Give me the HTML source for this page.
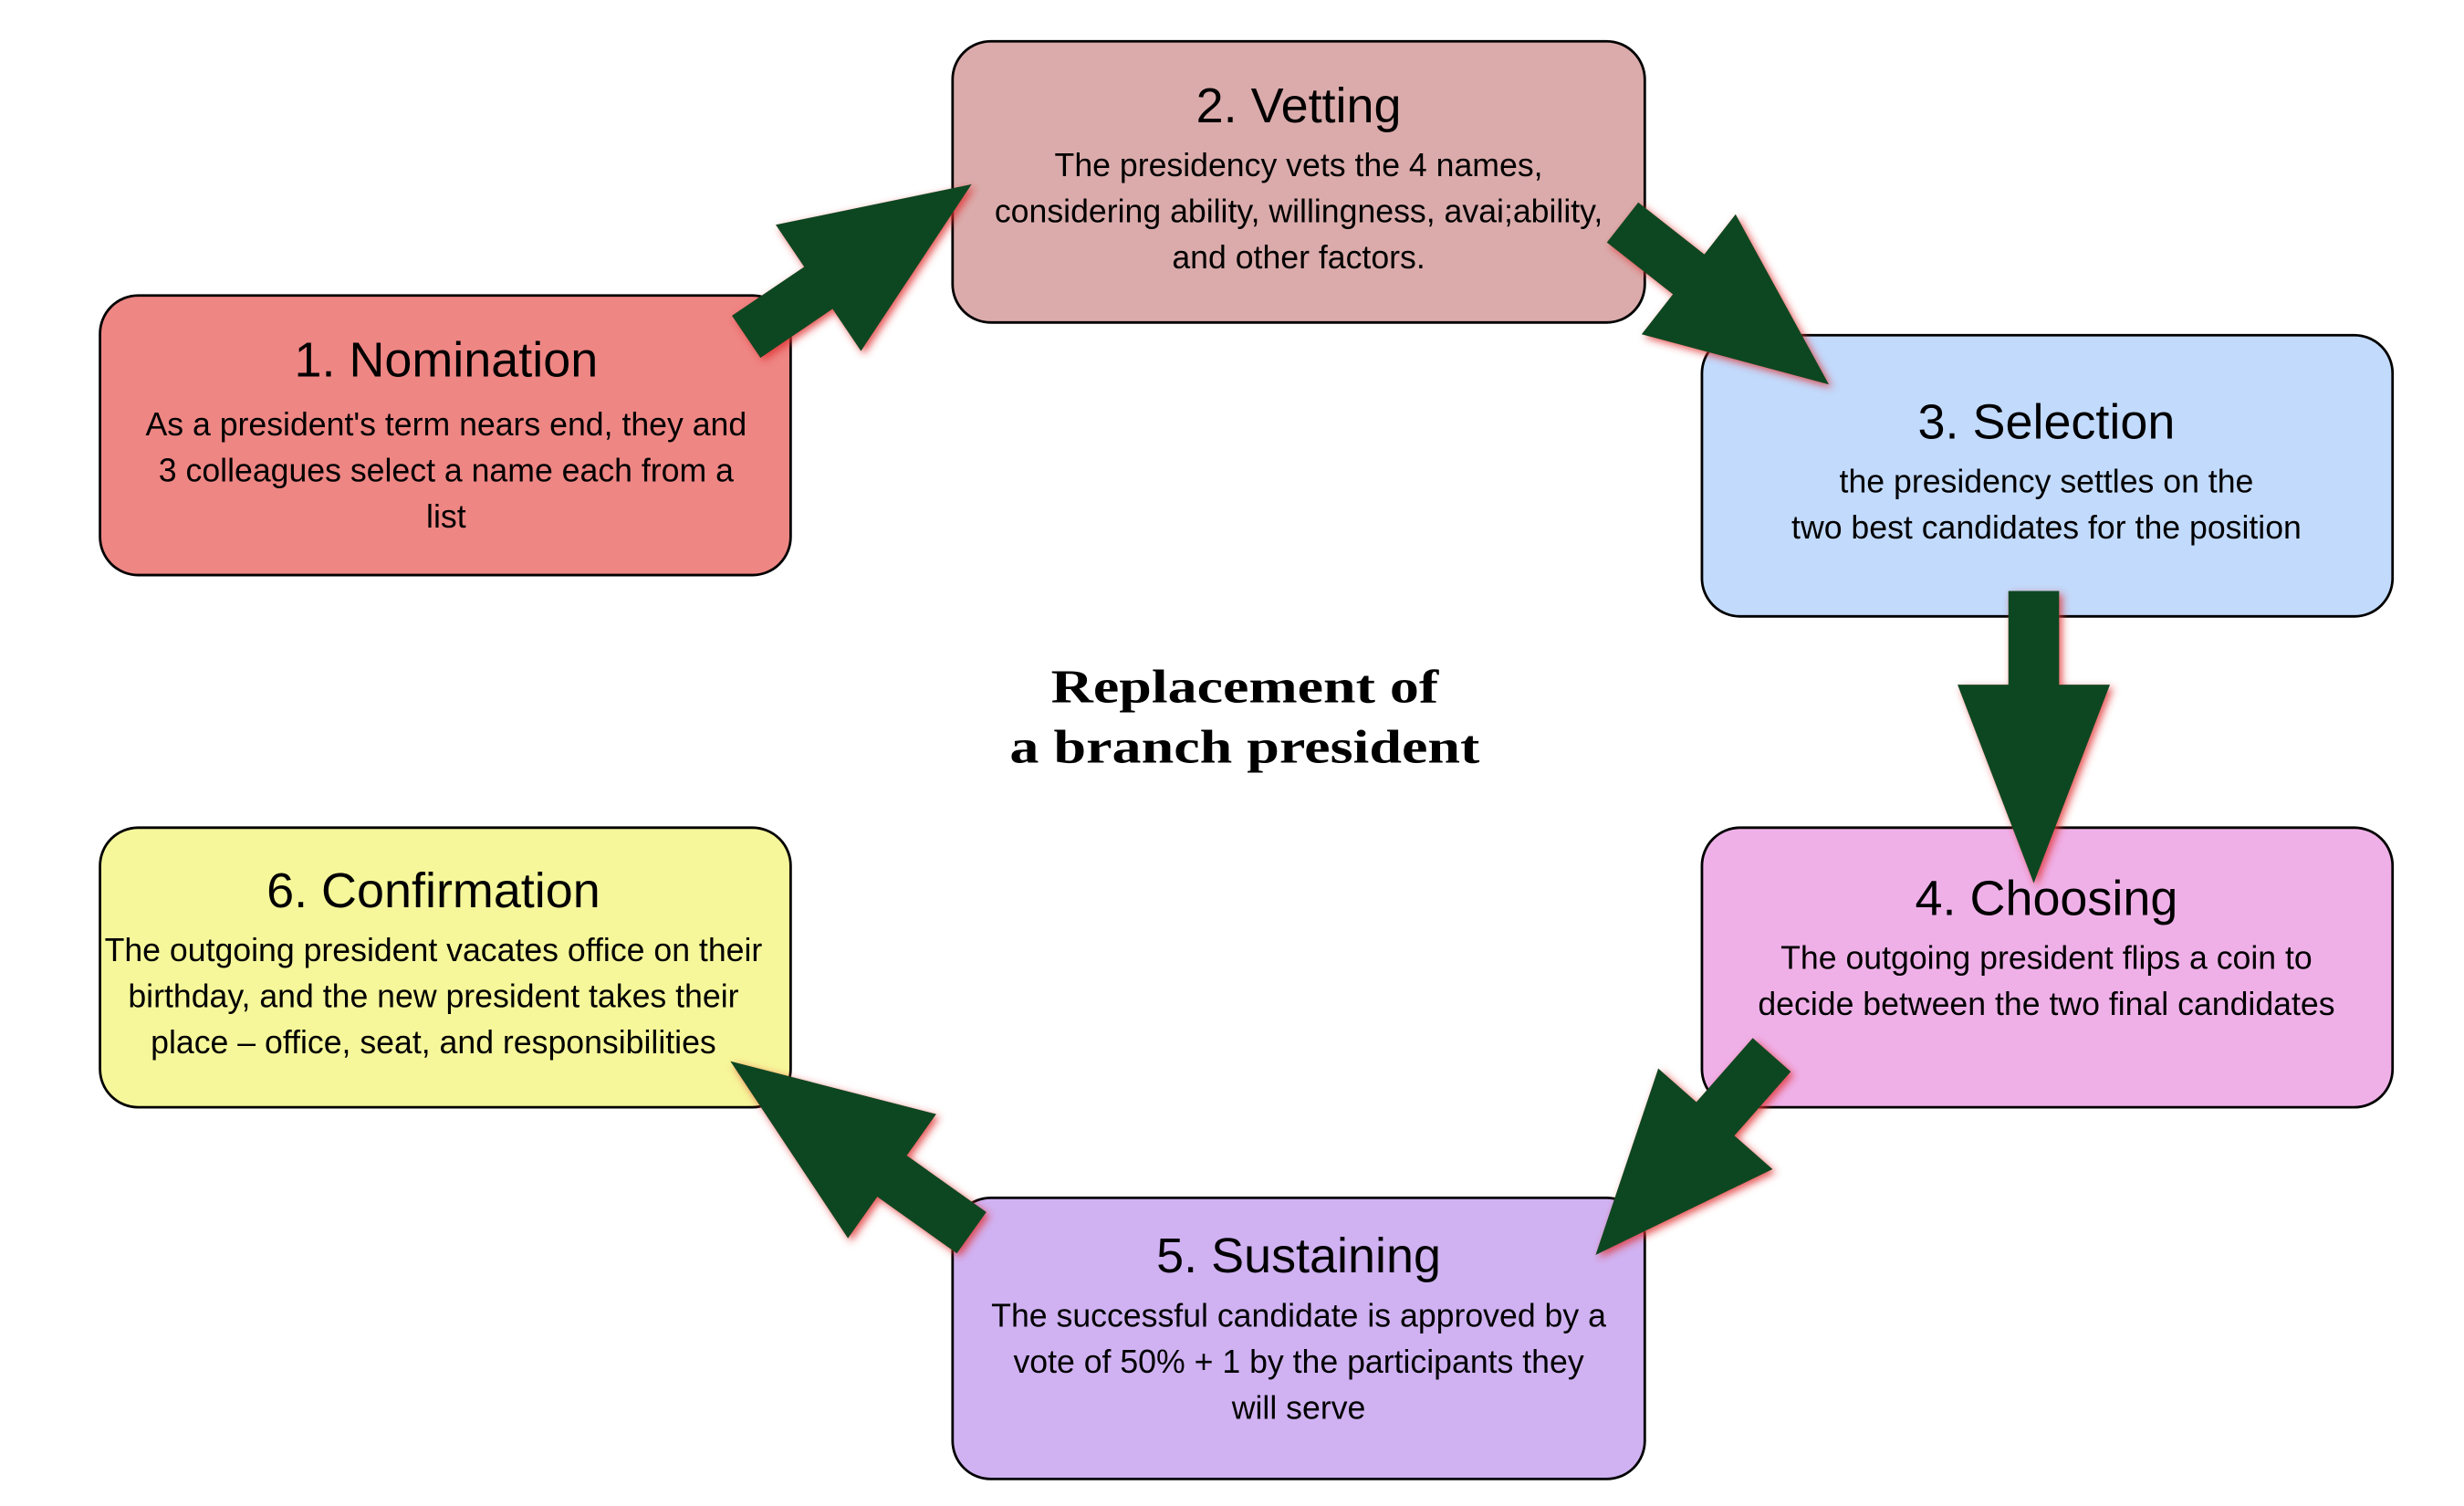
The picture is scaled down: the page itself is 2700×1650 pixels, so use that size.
<!DOCTYPE html>
<html><head><meta charset="utf-8"><style>
html,body{margin:0;padding:0;background:#fff;}
svg{display:block;}
.t{font-family:"Liberation Sans",Arial,sans-serif;font-size:31px;text-anchor:middle;fill:#000;}
.b{font-family:"Liberation Sans",Arial,sans-serif;font-size:20.5px;text-anchor:middle;fill:#000;}
.c{font-family:"Liberation Serif",serif;font-weight:bold;font-size:30px;text-anchor:middle;fill:#000;}
</style></head><body>
<svg id="s" width="2700" height="1650" viewBox="0 0 1552 948" preserveAspectRatio="none" xmlns="http://www.w3.org/2000/svg">
<defs><filter id="sh" x="-30%" y="-30%" width="160%" height="160%"><feDropShadow dx="2" dy="2" stdDeviation="2.5" flood-color="#e03030" flood-opacity="0.8"/></filter></defs>
<g stroke="#000" stroke-width="1.6">
<rect x="63" y="186" width="435" height="176" rx="24" fill="#ee8684"/>
<rect x="600" y="26" width="436" height="177" rx="24" fill="#dbabab"/>
<rect x="1072" y="211" width="435" height="177" rx="24" fill="#c2dafc"/>
<rect x="1072" y="521" width="435" height="176" rx="24" fill="#efb0e8"/>
<rect x="600" y="754" width="436" height="177" rx="24" fill="#d0b2f2"/>
<rect x="63" y="521" width="435" height="176" rx="24" fill="#f6f79a"/>
</g>
<g id="arrows" fill="#0a4620" filter="url(#sh)"></g>
<text class="t" x="281" y="237">1. Nomination</text>
<text class="b" x="281" y="274">As a president's term nears end, they and</text>
<text class="b" x="281" y="303">3 colleagues select a name each from a</text>
<text class="b" x="281" y="332">list</text>
<text class="t" x="818" y="77">2. Vetting</text>
<text class="b" x="818" y="111">The presidency vets the 4 names,</text>
<text class="b" x="818" y="140">considering ability, willingness, avai;ability,</text>
<text class="b" x="818" y="169">and other factors.</text>
<text class="t" x="1289" y="276">3. Selection</text>
<text class="b" x="1289" y="310">the presidency settles on the</text>
<text class="b" x="1289" y="339">two best candidates for the position</text>
<text class="t" x="1289" y="576">4. Choosing</text>
<text class="b" x="1289" y="610">The outgoing president flips a coin to</text>
<text class="b" x="1289" y="639">decide between the two final candidates</text>
<text class="t" x="818" y="801">5. Sustaining</text>
<text class="b" x="818" y="835">The successful candidate is approved by a</text>
<text class="b" x="818" y="864">vote of 50% + 1 by the participants they</text>
<text class="b" x="818" y="893">will serve</text>
<text class="t" x="273" y="571">6. Confirmation</text>
<text class="b" x="273" y="605">The outgoing president vacates office on their</text>
<text class="b" x="273" y="634">birthday, and the new president takes their</text>
<text class="b" x="273" y="663">place – office, seat, and responsibilities</text>
<text class="c" x="784" y="442" textLength="244" lengthAdjust="spacingAndGlyphs">Replacement of</text>
<text class="c" x="784" y="480" textLength="296" lengthAdjust="spacingAndGlyphs">a branch president</text>
</svg>
<script>
var A=[[470,212,612,116],[1022,140,1152,242],[1281,372,1281,556],[1116,664,1005,790],[612,776,460,668]];
var g=document.getElementById('arrows'),ns='http://www.w3.org/2000/svg';
A.forEach(function(a){var dx=a[2]-a[0],dy=a[3]-a[1],L=Math.hypot(dx,dy),ux=dx/L,uy=dy/L,px=-uy,py=ux;
var sw=16,hw=48,hl=Math.min(125,L*0.68);var bx=a[2]-ux*hl,by=a[3]-uy*hl;
var pts=[[a[0]+px*sw,a[1]+py*sw],[bx+px*sw,by+py*sw],[bx+px*hw,by+py*hw],[a[2],a[3]],[bx-px*hw,by-py*hw],[bx-px*sw,by-py*sw],[a[0]-px*sw,a[1]-py*sw]];
var p=document.createElementNS(ns,'polygon');p.setAttribute('points',pts.map(function(q){return q[0].toFixed(1)+','+q[1].toFixed(1)}).join(' '));g.appendChild(p);});
</script>
</body></html>
